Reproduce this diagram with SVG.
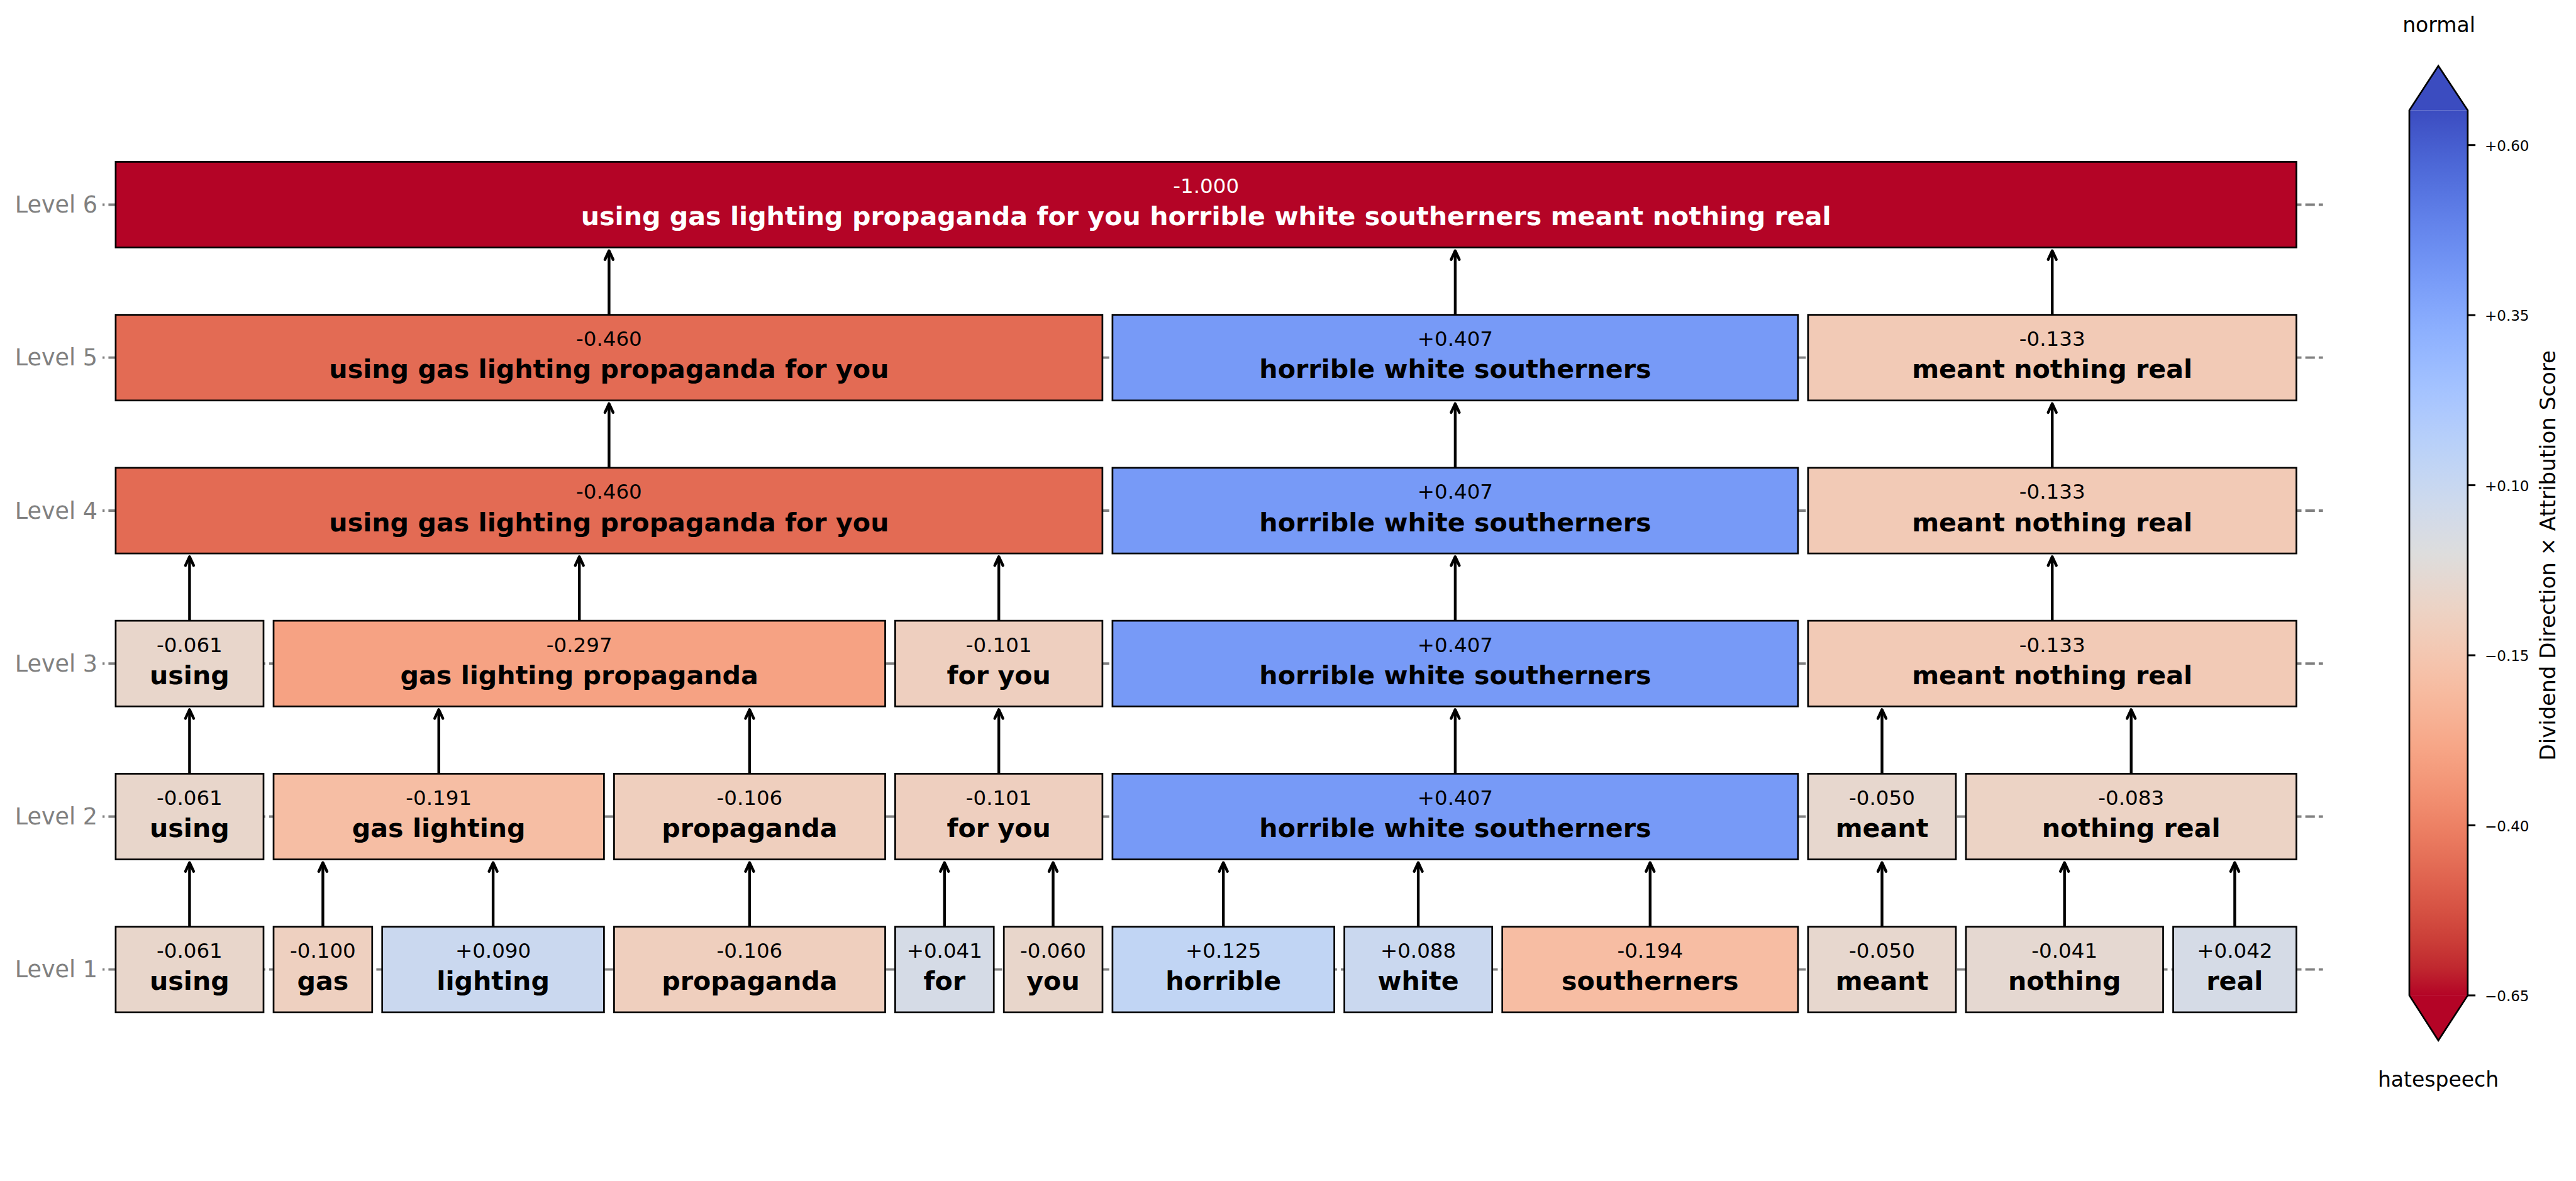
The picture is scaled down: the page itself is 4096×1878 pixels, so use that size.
<svg xmlns="http://www.w3.org/2000/svg" width="4096" height="1878" viewBox="0 0 4096 1878">
<style>
.bg{fill:#ffffff}
.box{stroke:#000;stroke-width:2.7}
.val{font-family:"DejaVu Sans",sans-serif;font-size:32.5px;text-anchor:middle;fill:#000}
.word{font-family:"DejaVu Sans",sans-serif;font-size:41.2px;font-weight:bold;text-anchor:middle;fill:#000}
.inv .val,.inv .word{fill:#fff}
.lvl{font-family:"DejaVu Sans",sans-serif;font-size:36.5px;fill:#808080;text-anchor:end}
.guide{stroke:#808080;stroke-width:3.8;stroke-dasharray:15.2 6.1;stroke-dashoffset:11.9;fill:none}
.arrow{stroke:#000;stroke-width:4.4;fill:none;marker-end:url(#ah)}
.tick{stroke:#000;stroke-width:3}
.tlab{font-family:"DejaVu Sans",sans-serif;font-size:23px;fill:#000}
.cbt{font-family:"DejaVu Sans",sans-serif;font-size:33px;fill:#000;text-anchor:middle}
.cbl{font-family:"DejaVu Sans",sans-serif;font-size:34px;fill:#000;text-anchor:middle}
</style>
<defs>
<marker id="ah" markerUnits="userSpaceOnUse" orient="auto" markerWidth="40" markerHeight="40" refX="0" refY="0" style="overflow:visible">
<path d="M-14,-6.5 L0,0 L-14,6.5" fill="none" stroke="#000" stroke-width="4.4" stroke-linejoin="round" stroke-linecap="round"/>
</marker>
<linearGradient id="cmap" gradientUnits="userSpaceOnUse" x1="0" y1="175.3" x2="0" y2="1582.9">
<stop offset="0" stop-color="#3b4cc0"/><stop offset="0.03125" stop-color="#445acc"/><stop offset="0.0625" stop-color="#4d68d7"/><stop offset="0.09375" stop-color="#5775e1"/><stop offset="0.125" stop-color="#6282ea"/><stop offset="0.15625" stop-color="#6c8ef1"/><stop offset="0.1875" stop-color="#779af7"/><stop offset="0.21875" stop-color="#82a5fb"/><stop offset="0.25" stop-color="#8db0fe"/><stop offset="0.28125" stop-color="#98b9ff"/><stop offset="0.3125" stop-color="#a3c2ff"/><stop offset="0.34375" stop-color="#aec9fd"/><stop offset="0.375" stop-color="#b8d0f9"/><stop offset="0.40625" stop-color="#c2d5f4"/><stop offset="0.4375" stop-color="#ccd9ee"/><stop offset="0.46875" stop-color="#d5dbe6"/><stop offset="0.5" stop-color="#dddddd"/><stop offset="0.53125" stop-color="#e5d8d1"/><stop offset="0.5625" stop-color="#ecd3c5"/><stop offset="0.59375" stop-color="#f1ccb9"/><stop offset="0.625" stop-color="#f5c4ad"/><stop offset="0.65625" stop-color="#f7bba0"/><stop offset="0.6875" stop-color="#f7b194"/><stop offset="0.71875" stop-color="#f7a687"/><stop offset="0.75" stop-color="#f49a7b"/><stop offset="0.78125" stop-color="#f18d6f"/><stop offset="0.8125" stop-color="#ec7f63"/><stop offset="0.84375" stop-color="#e57058"/><stop offset="0.875" stop-color="#de604d"/><stop offset="0.90625" stop-color="#d55042"/><stop offset="0.9375" stop-color="#cb3e38"/><stop offset="0.96875" stop-color="#c0282f"/><stop offset="1" stop-color="#b40426"/>
</linearGradient>
</defs>
<rect class="bg" x="0" y="0" width="4096" height="1878"/>

<g id="level-labels">
<text class="lvl" x="155" y="338.0">Level 6</text>
<text class="lvl" x="155" y="581.2">Level 5</text>
<text class="lvl" x="155" y="824.5">Level 4</text>
<text class="lvl" x="155" y="1067.7">Level 3</text>
<text class="lvl" x="155" y="1311.0">Level 2</text>
<text class="lvl" x="155" y="1554.2">Level 1</text>
</g>

<g id="guides">
<line class="guide" x1="163" y1="325.5" x2="3693.7" y2="325.5"/>
<line class="guide" x1="163" y1="568.7" x2="3693.7" y2="568.7"/>
<line class="guide" x1="163" y1="812.0" x2="3693.7" y2="812.0"/>
<line class="guide" x1="163" y1="1055.2" x2="3693.7" y2="1055.2"/>
<line class="guide" x1="163" y1="1298.5" x2="3693.7" y2="1298.5"/>
<line class="guide" x1="163" y1="1541.7" x2="3693.7" y2="1541.7"/>
</g>

<g id="connectors">
<!-- L1 -> L2 -->
<line class="arrow" x1="301.4" y1="1473.6" x2="301.4" y2="1371.7"/>
<line class="arrow" x1="513.4" y1="1473.6" x2="513.4" y2="1371.7"/>
<line class="arrow" x1="784.1" y1="1473.6" x2="784.1" y2="1371.7"/>
<line class="arrow" x1="1191.9" y1="1473.6" x2="1191.9" y2="1371.7"/>
<line class="arrow" x1="1501.8" y1="1473.6" x2="1501.8" y2="1371.7"/>
<line class="arrow" x1="1674.5" y1="1473.6" x2="1674.5" y2="1371.7"/>
<line class="arrow" x1="1945.2" y1="1473.6" x2="1945.2" y2="1371.7"/>
<line class="arrow" x1="2255.1" y1="1473.6" x2="2255.1" y2="1371.7"/>
<line class="arrow" x1="2623.8" y1="1473.6" x2="2623.8" y2="1371.7"/>
<line class="arrow" x1="2992.5" y1="1473.6" x2="2992.5" y2="1371.7"/>
<line class="arrow" x1="3282.7" y1="1473.6" x2="3282.7" y2="1371.7"/>
<line class="arrow" x1="3553.4" y1="1473.6" x2="3553.4" y2="1371.7"/>
<!-- L2 -> L3 -->
<line class="arrow" x1="301.4" y1="1230.4" x2="301.4" y2="1128.4"/>
<line class="arrow" x1="697.7" y1="1230.4" x2="697.7" y2="1128.4"/>
<line class="arrow" x1="1191.9" y1="1230.4" x2="1191.9" y2="1128.4"/>
<line class="arrow" x1="1588.2" y1="1230.4" x2="1588.2" y2="1128.4"/>
<line class="arrow" x1="2313.9" y1="1230.4" x2="2313.9" y2="1128.4"/>
<line class="arrow" x1="2992.5" y1="1230.4" x2="2992.5" y2="1128.4"/>
<line class="arrow" x1="3388.7" y1="1230.4" x2="3388.7" y2="1128.4"/>
<!-- L3 -> L4 -->
<line class="arrow" x1="301.4" y1="987.1" x2="301.4" y2="885.2"/>
<line class="arrow" x1="921.2" y1="987.1" x2="921.2" y2="885.2"/>
<line class="arrow" x1="1588.2" y1="987.1" x2="1588.2" y2="885.2"/>
<line class="arrow" x1="2313.9" y1="987.1" x2="2313.9" y2="885.2"/>
<line class="arrow" x1="3263.2" y1="987.1" x2="3263.2" y2="885.2"/>
<!-- L4 -> L5 -->
<line class="arrow" x1="968.4" y1="743.9" x2="968.4" y2="641.9"/>
<line class="arrow" x1="2313.9" y1="743.9" x2="2313.9" y2="641.9"/>
<line class="arrow" x1="3263.2" y1="743.9" x2="3263.2" y2="641.9"/>
<!-- L5 -> L6 -->
<line class="arrow" x1="968.4" y1="500.6" x2="968.4" y2="398.7"/>
<line class="arrow" x1="2313.9" y1="500.6" x2="2313.9" y2="398.7"/>
<line class="arrow" x1="3263.2" y1="500.6" x2="3263.2" y2="398.7"/>
</g>

<!-- Level 6 -->
<g id="n6-all" class="inv"><rect class="box" x="183.9" y="257.4" width="3467.5" height="136.2" fill="#b40426"/><text class="val" x="1917.7" y="306.9">-1.000</text><text class="word" x="1917.7" y="358.2">using gas lighting propaganda for you horrible white southerners meant nothing real</text></g>

<!-- Level 5 -->
<g id="n5-using-you"><rect class="box" x="183.9" y="500.6" width="1569.0" height="136.2" fill="#e36b54"/><text class="val" x="968.4" y="550.1">-0.460</text><text class="word" x="968.4" y="601.4">using gas lighting propaganda for you</text></g>
<g id="n5-hws"><rect class="box" x="1768.9" y="500.6" width="1090.0" height="136.2" fill="#779af7"/><text class="val" x="2313.9" y="550.1">+0.407</text><text class="word" x="2313.9" y="601.4">horrible white southerners</text></g>
<g id="n5-mnr"><rect class="box" x="2874.9" y="500.6" width="776.5" height="136.2" fill="#f2cab6"/><text class="val" x="3263.2" y="550.1">-0.133</text><text class="word" x="3263.2" y="601.4">meant nothing real</text></g>

<!-- Level 4 -->
<g id="n4-using-you"><rect class="box" x="183.9" y="743.9" width="1569.0" height="136.2" fill="#e36b54"/><text class="val" x="968.4" y="793.4">-0.460</text><text class="word" x="968.4" y="844.7">using gas lighting propaganda for you</text></g>
<g id="n4-hws"><rect class="box" x="1768.9" y="743.9" width="1090.0" height="136.2" fill="#779af7"/><text class="val" x="2313.9" y="793.4">+0.407</text><text class="word" x="2313.9" y="844.7">horrible white southerners</text></g>
<g id="n4-mnr"><rect class="box" x="2874.9" y="743.9" width="776.5" height="136.2" fill="#f2cab6"/><text class="val" x="3263.2" y="793.4">-0.133</text><text class="word" x="3263.2" y="844.7">meant nothing real</text></g>

<!-- Level 3 -->
<g id="n3-using"><rect class="box" x="183.9" y="987.1" width="235.1" height="136.2" fill="#e8d6cb"/><text class="val" x="301.4" y="1036.6">-0.061</text><text class="word" x="301.4" y="1087.9">using</text></g>
<g id="n3-glp"><rect class="box" x="435.0" y="987.1" width="972.5" height="136.2" fill="#f6a283"/><text class="val" x="921.2" y="1036.6">-0.297</text><text class="word" x="921.2" y="1087.9">gas lighting propaganda</text></g>
<g id="n3-foryou"><rect class="box" x="1423.4" y="987.1" width="329.5" height="136.2" fill="#eecfbf"/><text class="val" x="1588.2" y="1036.6">-0.101</text><text class="word" x="1588.2" y="1087.9">for you</text></g>
<g id="n3-hws"><rect class="box" x="1768.9" y="987.1" width="1090.0" height="136.2" fill="#779af7"/><text class="val" x="2313.9" y="1036.6">+0.407</text><text class="word" x="2313.9" y="1087.9">horrible white southerners</text></g>
<g id="n3-mnr"><rect class="box" x="2874.9" y="987.1" width="776.5" height="136.2" fill="#f2cab6"/><text class="val" x="3263.2" y="1036.6">-0.133</text><text class="word" x="3263.2" y="1087.9">meant nothing real</text></g>

<!-- Level 2 -->
<g id="n2-using"><rect class="box" x="183.9" y="1230.4" width="235.1" height="136.2" fill="#e8d6cb"/><text class="val" x="301.4" y="1279.9">-0.061</text><text class="word" x="301.4" y="1331.2">using</text></g>
<g id="n2-gaslighting"><rect class="box" x="435.0" y="1230.4" width="525.4" height="136.2" fill="#f6bea4"/><text class="val" x="697.7" y="1279.9">-0.191</text><text class="word" x="697.7" y="1331.2">gas lighting</text></g>
<g id="n2-propaganda"><rect class="box" x="976.4" y="1230.4" width="431.1" height="136.2" fill="#efcfbe"/><text class="val" x="1191.9" y="1279.9">-0.106</text><text class="word" x="1191.9" y="1331.2">propaganda</text></g>
<g id="n2-foryou"><rect class="box" x="1423.4" y="1230.4" width="329.5" height="136.2" fill="#eecfbf"/><text class="val" x="1588.2" y="1279.9">-0.101</text><text class="word" x="1588.2" y="1331.2">for you</text></g>
<g id="n2-hws"><rect class="box" x="1768.9" y="1230.4" width="1090.0" height="136.2" fill="#779af7"/><text class="val" x="2313.9" y="1279.9">+0.407</text><text class="word" x="2313.9" y="1331.2">horrible white southerners</text></g>
<g id="n2-meant"><rect class="box" x="2874.9" y="1230.4" width="235.1" height="136.2" fill="#e7d7ce"/><text class="val" x="2992.5" y="1279.9">-0.050</text><text class="word" x="2992.5" y="1331.2">meant</text></g>
<g id="n2-nothingreal"><rect class="box" x="3126.0" y="1230.4" width="525.4" height="136.2" fill="#ecd3c5"/><text class="val" x="3388.7" y="1279.9">-0.083</text><text class="word" x="3388.7" y="1331.2">nothing real</text></g>

<!-- Level 1 -->
<g id="n1-using"><rect class="box" x="183.9" y="1473.6" width="235.1" height="136.2" fill="#e8d6cb"/><text class="val" x="301.4" y="1523.1">-0.061</text><text class="word" x="301.4" y="1574.4">using</text></g>
<g id="n1-gas"><rect class="box" x="435.0" y="1473.6" width="156.8" height="136.2" fill="#eed0c0"/><text class="val" x="513.4" y="1523.1">-0.100</text><text class="word" x="513.4" y="1574.4">gas</text></g>
<g id="n1-lighting"><rect class="box" x="607.7" y="1473.6" width="352.7" height="136.2" fill="#cad8ef"/><text class="val" x="784.1" y="1523.1">+0.090</text><text class="word" x="784.1" y="1574.4">lighting</text></g>
<g id="n1-propaganda"><rect class="box" x="976.4" y="1473.6" width="431.1" height="136.2" fill="#efcfbe"/><text class="val" x="1191.9" y="1523.1">-0.106</text><text class="word" x="1191.9" y="1574.4">propaganda</text></g>
<g id="n1-for"><rect class="box" x="1423.4" y="1473.6" width="156.8" height="136.2" fill="#d5dbe6"/><text class="val" x="1501.8" y="1523.1">+0.041</text><text class="word" x="1501.8" y="1574.4">for</text></g>
<g id="n1-you"><rect class="box" x="1596.2" y="1473.6" width="156.8" height="136.2" fill="#e8d6cb"/><text class="val" x="1674.5" y="1523.1">-0.060</text><text class="word" x="1674.5" y="1574.4">you</text></g>
<g id="n1-horrible"><rect class="box" x="1768.9" y="1473.6" width="352.7" height="136.2" fill="#c1d5f4"/><text class="val" x="1945.2" y="1523.1">+0.125</text><text class="word" x="1945.2" y="1574.4">horrible</text></g>
<g id="n1-white"><rect class="box" x="2137.6" y="1473.6" width="235.1" height="136.2" fill="#cad8ef"/><text class="val" x="2255.1" y="1523.1">+0.088</text><text class="word" x="2255.1" y="1574.4">white</text></g>
<g id="n1-southerners"><rect class="box" x="2388.7" y="1473.6" width="470.2" height="136.2" fill="#f7bda3"/><text class="val" x="2623.8" y="1523.1">-0.194</text><text class="word" x="2623.8" y="1574.4">southerners</text></g>
<g id="n1-meant"><rect class="box" x="2874.9" y="1473.6" width="235.1" height="136.2" fill="#e7d7ce"/><text class="val" x="2992.5" y="1523.1">-0.050</text><text class="word" x="2992.5" y="1574.4">meant</text></g>
<g id="n1-nothing"><rect class="box" x="3126.0" y="1473.6" width="313.5" height="136.2" fill="#e5d8d1"/><text class="val" x="3282.7" y="1523.1">-0.041</text><text class="word" x="3282.7" y="1574.4">nothing</text></g>
<g id="n1-real"><rect class="box" x="3455.5" y="1473.6" width="195.9" height="136.2" fill="#d5dbe6"/><text class="val" x="3553.4" y="1523.1">+0.042</text><text class="word" x="3553.4" y="1574.4">real</text></g>

<g id="colorbar">
<rect x="3831.0" y="175.3" width="92.8" height="1407.6" fill="url(#cmap)"/>
<polygon points="3877.1,104.8 3923.8,175.3 3831.0,175.3" fill="#3b4cc0"/>
<polygon points="3831.0,1582.9 3923.8,1582.9 3877.1,1654.4" fill="#b40426"/>
<polygon points="3877.1,104.8 3923.8,175.3 3923.8,1582.9 3877.1,1654.4 3831.0,1582.9 3831.0,175.3" fill="none" stroke="#000" stroke-width="2.7" stroke-linejoin="miter"/>
<line class="tick" x1="3923.8" y1="230.7" x2="3936.1" y2="230.7"/>
<line class="tick" x1="3923.8" y1="501.1" x2="3936.1" y2="501.1"/>
<line class="tick" x1="3923.8" y1="771.6" x2="3936.1" y2="771.6"/>
<line class="tick" x1="3923.8" y1="1042.0" x2="3936.1" y2="1042.0"/>
<line class="tick" x1="3923.8" y1="1312.4" x2="3936.1" y2="1312.4"/>
<line class="tick" x1="3923.8" y1="1582.9" x2="3936.1" y2="1582.9"/>
<text class="tlab" x="3951" y="240.0">+0.60</text>
<text class="tlab" x="3951" y="510.4">+0.35</text>
<text class="tlab" x="3951" y="780.9">+0.10</text>
<text class="tlab" x="3951" y="1051.3">−0.15</text>
<text class="tlab" x="3951" y="1321.7">−0.40</text>
<text class="tlab" x="3951" y="1592.2">−0.65</text>
<text class="cbt" x="3878" y="50.5">normal</text>
<text class="cbt" x="3877" y="1728.1">hatespeech</text>
<text class="cbl" transform="translate(4062.6,883.3) rotate(-90)">Dividend Direction × Attribution Score</text>
</g>
</svg>
